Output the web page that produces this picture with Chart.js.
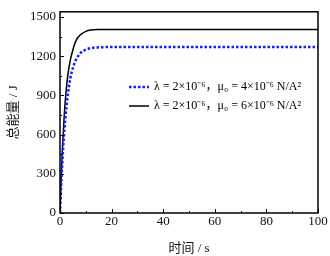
<!DOCTYPE html>
<html lang="zh">
<head>
<meta charset="UTF-8">
<title>总能量</title>
<style>
    body { margin: 0; padding: 0; background: #fff; }
    #wrap { width: 330px; height: 256px; position: relative; }
</style>
</head>
<body>
<div id="wrap"><canvas id="energyChart"></canvas></div>
<script src="https://cdn.jsdelivr.net/npm/chart.js"></script>
<script>
    // time (s)
    const times = [0, 0.5, 1, 1.5, 2, 3, 4, 5, 6, 7, 8, 10, 12, 15, 20, 30, 100];
    // mu0 = 4e-6
    const energyMu4 = [0, 230, 420, 580, 710, 900, 1030, 1110, 1165, 1200, 1225, 1250, 1262, 1268, 1270, 1270, 1270];
    // mu0 = 6e-6
    const energyMu6 = [0, 290, 520, 700, 850, 1050, 1170, 1250, 1310, 1345, 1365, 1390, 1400, 1404, 1405, 1405, 1405];

    const xTicks = [0, 10, 20, 30, 40, 50, 60, 70, 80, 90, 100];
    const yTicks = [0, 150, 300, 450, 600, 750, 900, 1050, 1200, 1350, 1500];
    const legendLabels = [
        'λ = 2×10⁻⁶，μ₀ = 4×10⁻⁶ N/A²',
        'λ = 2×10⁻⁶，μ₀ = 6×10⁻⁶ N/A²'
    ];

    const serif = '"Liberation Serif", "DejaVu Serif", serif';
    const cjk = '"Liberation Serif", "Noto Sans CJK SC", serif';

    const toPoints = (xs, ys) => xs.map((x, i) => ({ x: x, y: ys[i] }));

    // frame, inward ticks and legend
    const framePlugin = {
        id: 'frame',
        afterDraw(chart) {
            const ctx = chart.ctx;
            const a = chart.chartArea;
            const xs = chart.scales.x, ys = chart.scales.y;
            ctx.save();
            ctx.strokeStyle = '#000';
            ctx.lineWidth = 1;
            xTicks.forEach(v => {
                const px = Math.round(xs.getPixelForValue(v)) + 0.5;
                const len = v % 20 === 0 ? 4 : 2;
                ctx.beginPath();
                ctx.moveTo(px, a.bottom);
                ctx.lineTo(px, a.bottom - len);
                ctx.stroke();
            });
            yTicks.forEach(v => {
                const py = Math.round(ys.getPixelForValue(v)) + 0.5;
                const len = v % 300 === 0 ? 4 : 2;
                ctx.beginPath();
                ctx.moveTo(a.left, py);
                ctx.lineTo(a.left + len, py);
                ctx.stroke();
            });
            ctx.lineWidth = 1.5;
            ctx.strokeRect(a.left, a.top, a.right - a.left, a.bottom - a.top);

            // legend
            const lx = 129, ly = [87, 106];
            ctx.font = '12px ' + cjk;
            ctx.fillStyle = '#000';
            ctx.textBaseline = 'middle';
            chart.data.datasets.forEach((ds, i) => {
                ctx.beginPath();
                ctx.strokeStyle = ds.borderColor;
                ctx.lineWidth = ds.borderWidth;
                ctx.setLineDash(ds.borderDash || []);
                ctx.moveTo(lx, ly[i]);
                ctx.lineTo(lx + 20, ly[i]);
                ctx.stroke();
                ctx.setLineDash([]);
                ctx.fillText(legendLabels[i], lx + 25, ly[i]);
            });
            ctx.restore();
        }
    };

    new Chart(document.getElementById('energyChart'), {
        type: 'line',
        data: {
            datasets: [{
                label: legendLabels[0],
                data: toPoints(times, energyMu4),
                borderColor: '#1a1aff',
                borderWidth: 2.5,
                borderDash: [2.5, 2],
                pointRadius: 0,
                cubicInterpolationMode: 'monotone',
                fill: false
            }, {
                label: legendLabels[1],
                data: toPoints(times, energyMu6),
                borderColor: '#000',
                borderWidth: 1.5,
                pointRadius: 0,
                cubicInterpolationMode: 'monotone',
                fill: false
            }]
        },
        options: {
            responsive: true,
            maintainAspectRatio: false,
            animation: false,
            layout: { padding: { left: 0, right: 12, top: 5, bottom: 0 } },
            plugins: { legend: { display: false }, tooltip: { enabled: false } },
            scales: {
                x: {
                    type: 'linear',
                    min: 0,
                    max: 100,
                    afterBuildTicks: s => { s.ticks = xTicks.map(v => ({ value: v })); },
                    afterFit: s => { s.height = 43; },
                    grid: { display: false, drawTicks: false },
                    border: { display: false },
                    ticks: {
                        color: '#111',
                        padding: 1,
                        maxRotation: 0,
                        font: { family: serif, size: 13 },
                        callback: v => (v % 20 === 0 ? v : '')
                    },
                    title: {
                        display: true,
                        text: '时间 / s',
                        color: '#111',
                        padding: { top: 3, bottom: 0 },
                        font: { family: cjk, size: 13 }
                    }
                },
                y: {
                    type: 'linear',
                    min: 0,
                    max: 1540,
                    afterBuildTicks: s => { s.ticks = yTicks.map(v => ({ value: v })); },
                    afterFit: s => { s.width = 60; },
                    grid: { display: false, drawTicks: false },
                    border: { display: false },
                    ticks: {
                        color: '#111',
                        padding: 4,
                        font: { family: serif, size: 13 },
                        callback: v => (v % 300 === 0 ? v : '')
                    },
                    title: {
                        display: true,
                        text: '总能量 / J',
                        color: '#111',
                        padding: { top: 6, bottom: 0 },
                        font: { family: cjk, size: 13 }
                    }
                }
            }
        },
        plugins: [framePlugin]
    });
</script>
</body>
</html>
